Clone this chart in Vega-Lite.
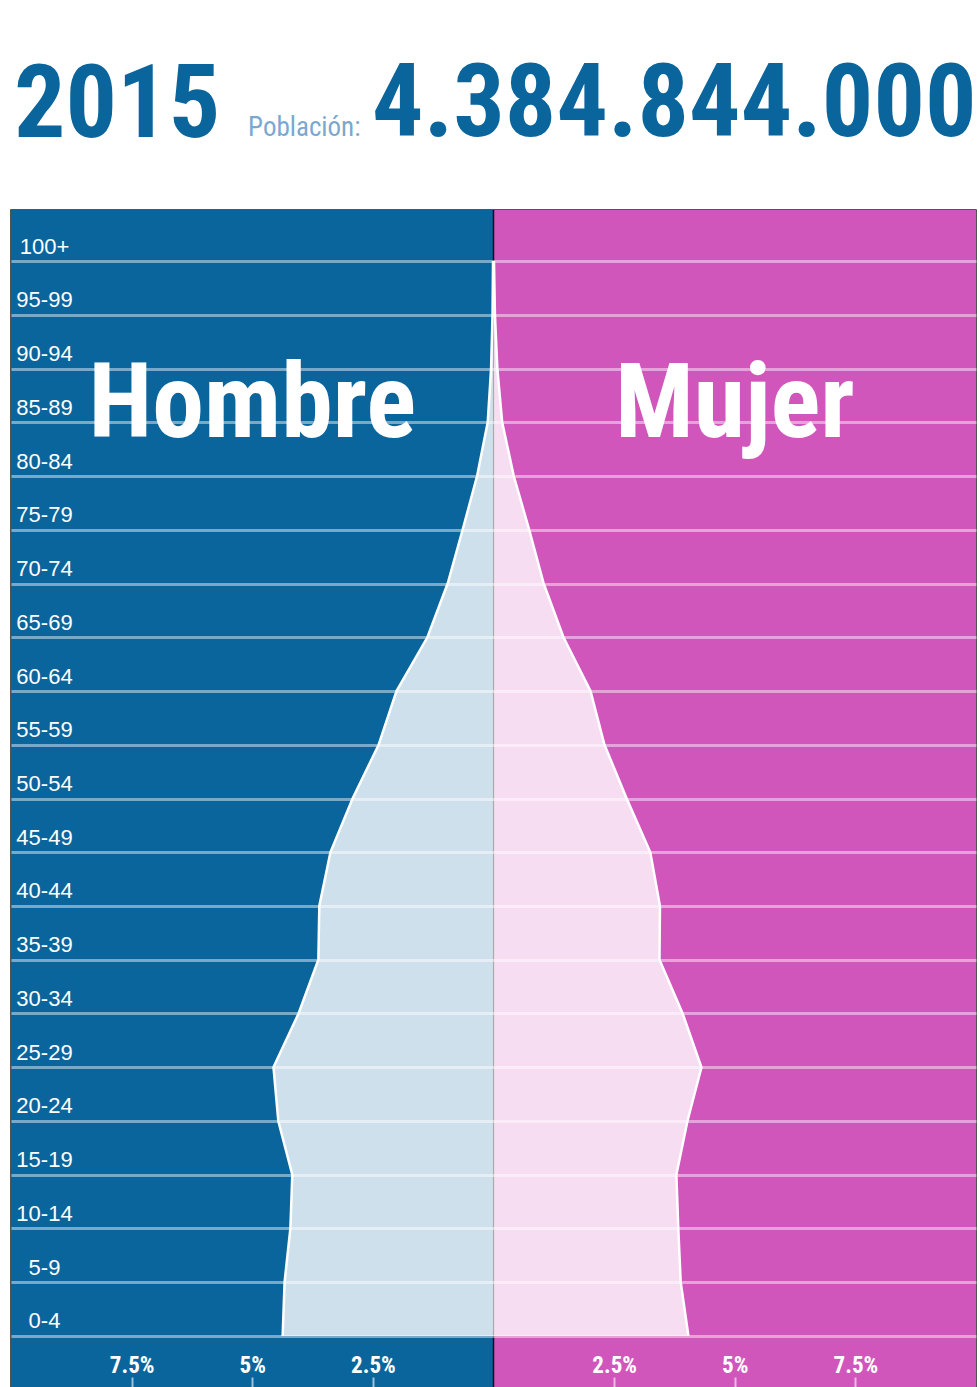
{
  "$schema": "https://vega.github.io/schema/vega-lite/v6.json",
  "width": 965,
  "height": 1177,
  "autosize": {"type": "none"},
  "padding": {"left": 11, "top": 210, "right": 3, "bottom": 0},
  "background": "white",
  "title": {
    "text": "2015",
    "anchor": "start",
    "frame": "group",
    "font": "'Roboto Condensed', 'Liberation Sans', sans-serif",
    "fontWeight": "bold",
    "fontSize": 102,
    "color": "#0a659c",
    "baseline": "alphabetic",
    "dx": 3,
    "offset": -186
  },
  "config": {
    "view": {"stroke": "#1b1b1b", "strokeWidth": 1.5}
  },
  "datasets": {
    "pop": [
      {"age": "100+", "sex": "Hombre", "pct": -0.01},
      {"age": "95-99", "sex": "Hombre", "pct": -0.02},
      {"age": "90-94", "sex": "Hombre", "pct": -0.05},
      {"age": "85-89", "sex": "Hombre", "pct": -0.12},
      {"age": "80-84", "sex": "Hombre", "pct": -0.34},
      {"age": "75-79", "sex": "Hombre", "pct": -0.64},
      {"age": "70-74", "sex": "Hombre", "pct": -0.95},
      {"age": "65-69", "sex": "Hombre", "pct": -1.37},
      {"age": "60-64", "sex": "Hombre", "pct": -2.01},
      {"age": "55-59", "sex": "Hombre", "pct": -2.38},
      {"age": "50-54", "sex": "Hombre", "pct": -2.92},
      {"age": "45-49", "sex": "Hombre", "pct": -3.38},
      {"age": "40-44", "sex": "Hombre", "pct": -3.61},
      {"age": "35-39", "sex": "Hombre", "pct": -3.63},
      {"age": "30-34", "sex": "Hombre", "pct": -4.04},
      {"age": "25-29", "sex": "Hombre", "pct": -4.56},
      {"age": "20-24", "sex": "Hombre", "pct": -4.46},
      {"age": "15-19", "sex": "Hombre", "pct": -4.17},
      {"age": "10-14", "sex": "Hombre", "pct": -4.21},
      {"age": "5-9", "sex": "Hombre", "pct": -4.33},
      {"age": "0-4", "sex": "Hombre", "pct": -4.37},
      {"age": "100+", "sex": "Mujer", "pct": 0.01},
      {"age": "95-99", "sex": "Mujer", "pct": 0.03},
      {"age": "90-94", "sex": "Mujer", "pct": 0.08},
      {"age": "85-89", "sex": "Mujer", "pct": 0.18},
      {"age": "80-84", "sex": "Mujer", "pct": 0.42},
      {"age": "75-79", "sex": "Mujer", "pct": 0.74},
      {"age": "70-74", "sex": "Mujer", "pct": 1.04},
      {"age": "65-69", "sex": "Mujer", "pct": 1.45},
      {"age": "60-64", "sex": "Mujer", "pct": 2.01},
      {"age": "55-59", "sex": "Mujer", "pct": 2.30},
      {"age": "50-54", "sex": "Mujer", "pct": 2.76},
      {"age": "45-49", "sex": "Mujer", "pct": 3.25},
      {"age": "40-44", "sex": "Mujer", "pct": 3.45},
      {"age": "35-39", "sex": "Mujer", "pct": 3.44},
      {"age": "30-34", "sex": "Mujer", "pct": 3.92},
      {"age": "25-29", "sex": "Mujer", "pct": 4.31},
      {"age": "20-24", "sex": "Mujer", "pct": 4.02},
      {"age": "15-19", "sex": "Mujer", "pct": 3.79},
      {"age": "10-14", "sex": "Mujer", "pct": 3.83},
      {"age": "5-9", "sex": "Mujer", "pct": 3.88},
      {"age": "0-4", "sex": "Mujer", "pct": 4.04}
    ],
    "halves": [
      {"sex": "Hombre", "from": -10, "to": 0},
      {"sex": "Mujer", "from": 0, "to": 10}
    ],
    "labels": [
      {"sex": "Hombre", "pct": -5, "age": "80-84"},
      {"sex": "Mujer", "pct": 5, "age": "80-84"}
    ]
  },
  "layer": [
    {
      "data": {"name": "halves"},
      "mark": {"type": "rect"},
      "encoding": {
        "x": {
          "field": "from",
          "type": "quantitative",
          "scale": {"domain": [-10, 10], "nice": false},
          "axis": {
            "orient": "top",
            "offset": -1177,
            "values": [-7.5, -5, -2.5, 2.5, 5, 7.5],
            "labelExpr": "abs(datum.value) + '%'",
            "domain": false,
            "grid": false,
            "ticks": true,
            "tickSize": 10,
            "tickColor": "#ffffff",
            "tickOpacity": 0.6,
            "tickWidth": 2,
            "labelColor": "white",
            "labelFont": "'Roboto Condensed', 'Liberation Sans', sans-serif",
            "labelFontSize": 23,
            "labelFontWeight": "bold",
            "labelPadding": 0,
            "title": "4.384.844.000",
            "titleX": 965,
            "titleY": -1252,
            "titleAlign": "right",
            "titleAnchor": null,
            "titleBaseline": "alphabetic",
            "titleAngle": 0,
            "titleFont": "'Roboto Condensed', 'Liberation Sans', sans-serif",
            "titleFontWeight": "bold",
            "titleFontSize": 102,
            "titleColor": "#0a659c",
            "zindex": 1
          }
        },
        "x2": {"field": "to"},
        "color": {
          "field": "sex",
          "type": "nominal",
          "scale": {"domain": ["Hombre", "Mujer"], "range": ["#0a659c", "#d156bc"]},
          "legend": null
        }
      }
    },
    {
      "data": {"values": [{"pct": 0}]},
      "mark": {"type": "rule", "color": "#111111", "strokeWidth": 1.5},
      "encoding": {"x": {"field": "pct", "type": "quantitative"}}
    },
    {
      "data": {"name": "pop"},
      "mark": {
        "type": "area",
        "orient": "horizontal",
        "color": "white",
        "fillOpacity": 0.8,
        "line": {"color": "white", "strokeWidth": 2.5}
      },
      "encoding": {
        "y": {
          "field": "age",
          "type": "ordinal",
          "sort": ["100+", "95-99", "90-94", "85-89", "80-84", "75-79", "70-74", "65-69", "60-64", "55-59", "50-54", "45-49", "40-44", "35-39", "30-34", "25-29", "20-24", "15-19", "10-14", "5-9", "0-4"],
          "scale": {
            "type": "point",
            "padding": 0.95,
            "domain": ["100+", "95-99", "90-94", "85-89", "80-84", "75-79", "70-74", "65-69", "60-64", "55-59", "50-54", "45-49", "40-44", "35-39", "30-34", "25-29", "20-24", "15-19", "10-14", "5-9", "0-4"]
          },
          "axis": {
            "orient": "left",
            "domain": false,
            "ticks": false,
            "grid": true,
            "gridColor": "white",
            "gridOpacity": 0.45,
            "gridWidth": 3,
            "labelColor": "white",
            "labelFont": "'Liberation Sans', Arial, sans-serif",
            "labelFontSize": 22,
            "labelAlign": "center",
            "labelBaseline": "alphabetic",
            "labelPadding": -33,
            "labelOffset": -8,
            "title": "Población:",
            "titleAngle": 0,
            "titleX": 349,
            "titleY": -75,
            "titleAlign": "right",
            "titleAnchor": null,
            "titleBaseline": "alphabetic",
            "titleFont": "'Roboto Condensed', 'Liberation Sans', sans-serif",
            "titleFontSize": 27,
            "titleFontWeight": "normal",
            "titleColor": "#7aa8d0",
            "zindex": 1
          }
        },
        "x": {"field": "pct", "type": "quantitative", "stack": null},
        "detail": {"field": "sex", "type": "nominal"}
      }
    },
    {
      "data": {"name": "labels"},
      "mark": {
        "type": "text",
        "font": "'Roboto Condensed', 'Liberation Sans', sans-serif",
        "fontWeight": "bold",
        "fontSize": 104,
        "color": "white",
        "align": "center",
        "baseline": "alphabetic",
        "dy": -39
      },
      "encoding": {
        "x": {"field": "pct", "type": "quantitative"},
        "y": {"field": "age", "type": "ordinal"},
        "text": {"field": "sex"}
      }
    }
  ]
}
